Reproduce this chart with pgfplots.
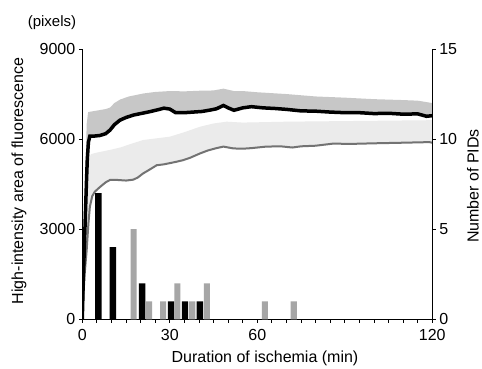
\documentclass[border=0pt]{standalone}
\usepackage{fontspec}
\setmainfont{Liberation Sans}
\usepackage{pgfplots}
\usepackage{pgfplotstable}
\pgfplotsset{compat=1.18}
\pgfplotstableread{
t v
0 0
0.3 1200
0.7 2400
1.1 3600
1.4 4500
1.7 5300
2.1 5900
2.6 6100
4 6100
6 6120
8 6180
9.5 6300
11 6480
12.9 6630
15 6720
17.5 6800
20 6850
23 6910
26 6980
28 7030
30 7000
32 6880
35 6880
38 6900
41 6920
44 6970
46 7010
48.4 7120
50 7040
52 6960
55 7040
58 7080
62 7040
66 7020
70 6990
75 6940
80 6930
85 6900
90 6880
95 6880
100 6850
105 6860
110 6830
115 6840
118 6760
120 6780
}\blackmean
\pgfplotstableread{
t v
0 0
0.5 2500
1 4500
1.5 6500
2 6900
5 6950
8 7000
9.5 7050
11 7200
13 7320
16 7420
21 7520
25 7570
30 7600
35 7590
40 7610
45 7620
48.4 7680
52 7600
55 7600
60 7560
70 7500
80 7420
90 7380
100 7330
110 7300
115 7280
120 7200
}\blackupper
\pgfplotstableread{
t v
0 0
0.3 650
0.8 1500
1.5 2300
2.1 3200
2.6 3750
3.4 4100
4.3 4250
6 4400
8 4560
9.5 4640
12 4640
15 4620
17.5 4650
19 4720
20.9 4860
23 4980
25.5 5130
28 5160
30 5200
32 5240
34.6 5300
37 5380
40.3 5520
43 5620
46 5700
48.4 5750
51.8 5690
55 5680
58 5700
63 5750
68 5760
72 5720
75 5760
80 5780
86 5850
92 5840
100 5860
110 5880
119 5900
120 5880
}\graymean
\pgfplotstableread{
t v
0 0
0.5 1800
1 3500
1.5 4500
2 5300
3 5500
5 5550
9.5 5640
13 5720
17 5850
20.9 5970
25 6020
30 6080
35 6230
40.3 6410
45 6520
49.5 6580
55 6550
60 6560
70 6580
80 6590
90 6600
100 6610
110 6620
120 6630
}\grayupper
\pgfplotstableread{
t n
5.5 7
10.5 4
20.5 2
30.4 1
35.2 1
40.3 1
}\blackbars
\pgfplotstableread{
t n
17.6 5
22.9 1
27.7 1
32.6 2
37.7 1
42.7 2
62.6 1
72.5 1
}\graybars
\begin{document}
\begin{tikzpicture}
\path[use as bounding box] (0pt,0pt) rectangle (482pt,368pt);
\begin{axis}[
  at={(82.3pt,48.7pt)}, anchor=south west, scale only axis,
  width=350pt, height=270.3pt,
  xmin=0, xmax=120, ymin=0, ymax=9000,
  axis x line*=bottom, axis y line*=left,
  axis line style={-, line width=1pt},
  axis on top,
  xtick={0,30,60,120}, minor xtick={5,10,...,115},
  ytick={0,3000,6000,9000},
  tick align=outside, major tick length=3.5pt, minor tick length=3.5pt,
  tick style={black, line width=0.8pt},
  tick label style={font=\fontsize{16}{18}\selectfont},
  xticklabel style={yshift=-2.5pt},
  /pgf/number format/1000 sep={}, /pgf/number format/assume math mode=true,
  scaled y ticks=false,
]
\addplot[fill=black!22, draw=none] table[x=t,y=v] {\blackupper} \closedcycle;
\addplot[fill=white, draw=none] table[x=t,y=v] {\blackmean} \closedcycle;
\addplot[fill=black!8, draw=none] table[x=t,y=v] {\grayupper} \closedcycle;
\addplot[fill=white, draw=none] table[x=t,y=v] {\graymean} \closedcycle;
\addplot[black!55, line width=2pt] table[x=t,y=v] {\graymean};
\addplot[black, line width=3.5pt] table[x=t,y=v] {\blackmean};
\end{axis}
\begin{axis}[
  at={(82.3pt,48.7pt)}, anchor=south west, scale only axis,
  width=350pt, height=270.3pt,
  xmin=0, xmax=120, ymin=0, ymax=15,
  axis x line=none, axis y line*=right,
  axis line style={-, line width=1pt},
  ytick={0,5,10,15},
  tick align=outside, major tick length=3.5pt,
  tick style={black, line width=0.8pt},
  tick label style={font=\fontsize{16}{18}\selectfont},
  /pgf/number format/assume math mode=true,
]
\addplot[ybar, bar width=2.1, bar shift=0pt, fill=black!35, draw=none] table[x=t,y=n] {\graybars};
\addplot[ybar, bar width=2.2, bar shift=0pt, fill=black, draw=none] table[x=t,y=n] {\blackbars};
\end{axis}
\node[rotate=90, font=\fontsize{16}{18}\selectfont] at (19pt,187pt) {High-intensity area of fluorescence};
\node[rotate=90, font=\fontsize{16}{18}\selectfont] at (473pt,182pt) {Number of PIDs};
\node[font=\fontsize{16}{18}\selectfont] at (265pt,10pt) {Duration of ischemia (min)};
\node[font=\fontsize{15}{18}\selectfont] at (52pt,345pt) {(pixels)};
\end{tikzpicture}
\end{document}
